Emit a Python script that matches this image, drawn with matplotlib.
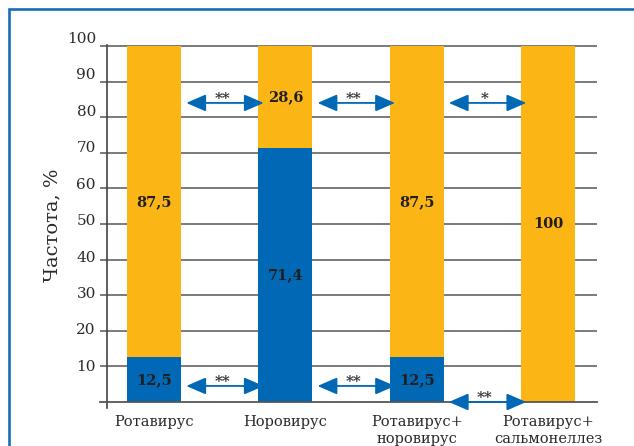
import numpy as np
import matplotlib
matplotlib.use("Agg")
import matplotlib.pyplot as plt
from matplotlib.patches import Rectangle
from matplotlib.transforms import ScaledTranslation

# data
groups = ["Ротавирус", "Норовирус", "Ротавирус+\nноровирус", "Ротавирус+\nсальмонеллез"]
blue_vals = [12.5, 71.4, 12.5, 0.0]
orange_vals = [87.5, 28.6, 87.5, 100.0]
blue_labels = ["12,5", "71,4", "12,5", ""]
orange_labels = ["87,5", "28,6", "87,5", "100"]
yticks = [10, 20, 30, 40, 50, 60, 70, 80, 90, 100]
# significance arrows: (from group, to group, level, stars)
arrows = [(0, 1, 84, "**"), (1, 2, 84, "**"), (2, 3, 84, "*"),
          (0, 1, 4.5, "**"), (1, 2, 4.5, "**"), (2, 3, 0, "**")]

BLUE = "#0068b4"
ORANGE = "#fbb616"
FRAME = "#1a6db5"
GRID = "#707070"
TXT = "#231f20"
W = 0.41

plt.rcParams["font.family"] = ["DejaVu Serif"]

fig = plt.figure(figsize=(6.34, 4.46), dpi=100)
ax = fig.add_axes([107/634, (446-408.4)/446, 490/634, (408.4-44.9)/446])

x = np.arange(len(groups))
ax.bar(x, blue_vals, W, color=BLUE, zorder=3)
ax.bar(x, orange_vals, W, bottom=blue_vals, color=ORANGE, zorder=3)

for i in x:
    if blue_labels[i]:
        ax.text(i, blue_vals[i]/2, blue_labels[i], ha="center", va="center",
                fontsize=10.5, fontweight="bold", color=TXT, zorder=5)
    ax.text(i, blue_vals[i] + orange_vals[i]/2, orange_labels[i], ha="center",
            va="center", fontsize=10.5, fontweight="bold", color=TXT, zorder=5)

for a, b, y, s in arrows:
    x1 = a + W/2 + 0.04
    x2 = b - W/2 + 0.04
    ax.annotate("", xy=(x2, y), xytext=(x1, y),
                arrowprops=dict(arrowstyle="<|-|>,head_length=0.6,head_width=0.26",
                                mutation_scale=20, color=BLUE, lw=1.3,
                                shrinkA=0, shrinkB=0),
                annotation_clip=False, zorder=6)
    ax.text((x1 + x2)/2 - 0.02, y - 0.9, s, ha="center", va="bottom",
            fontsize=11, fontweight="bold", color="#333333", zorder=6)

ax.set_xlim(-0.359, 3.374)
ax.set_ylim(-1.8, 100.3)

ax.set_yticks(yticks)
ax.set_yticklabels([str(v) for v in yticks], fontsize=11, color="#2a2a2a")
ax.yaxis.grid(True, color=GRID, lw=1.3, zorder=0)
ax.tick_params(axis="y", length=5, width=1.3, color=GRID, pad=3)
for v, lab in zip(yticks, ax.get_yticklabels()):
    dy = (1 + (v - 10) * 0.084) / 100.0
    lab.set_transform(lab.get_transform() + ScaledTranslation(0, dy, fig.dpi_scale_trans))

ax.set_xticks(x)
ax.set_xticklabels(groups, fontsize=10.5, color="#2a2a2a", linespacing=1.2)
ax.tick_params(axis="x", length=0, pad=5)

# baseline
ax.plot([-0.413, 3.374], [0, 0], color="#555555", lw=1.3, clip_on=False, zorder=4)

for sp in ["top", "right", "bottom"]:
    ax.spines[sp].set_visible(False)
ax.spines["left"].set_color("#444444")
ax.spines["left"].set_linewidth(1.2)
ax.set_axisbelow(True)

fig.text(52/634, 1 - 225/446, "Частота, %", rotation=90, ha="center",
         va="center", fontsize=14, color="#2a2a2a")

# frame around the figure
fig.patches.append(Rectangle((9/634, -0.5), 2, 1 - 9/446 + 0.5,
                             transform=fig.transFigure, fill=False,
                             edgecolor=FRAME, lw=1.9))

fig.savefig("out.png", dpi=100)
